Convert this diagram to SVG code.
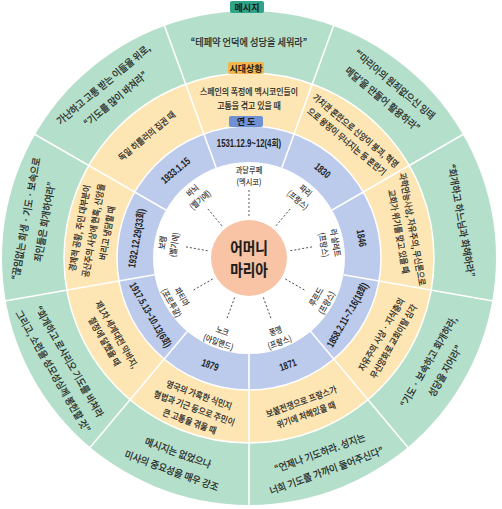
<svg xmlns="http://www.w3.org/2000/svg" width="502" height="509" viewBox="0 0 502 509">
<style>
.t{font-family:"Noto Sans CJK KR","Noto Sans",sans-serif;fill:#1c1c1c;stroke:#1c1c1c;stroke-width:0.2;text-anchor:middle;dominant-baseline:central}
.g{font-size:10px}
.y{font-size:9px}
.p{font-size:8.5px;stroke-width:0.1}
.yr{font-family:"Liberation Sans","Noto Sans CJK KR",sans-serif;font-size:10.5px;font-weight:bold;fill:#222;text-anchor:middle;dominant-baseline:central}
.tag{font-family:"Noto Sans CJK KR",sans-serif;font-size:9px;font-weight:bold;fill:#1a1a1a;text-anchor:middle;dominant-baseline:central}
.div{stroke:#fff;stroke-width:1.6}
.dash{stroke:#333;stroke-width:0.8;stroke-dasharray:2 2;fill:none}
</style>
<g id="rings">
<circle cx="249" cy="258" r="247" fill="#b4dfca"/>
<circle cx="249" cy="258" r="185" fill="#fde6b4" stroke="#fff" stroke-width="1.5"/>
<circle cx="249" cy="258" r="132" fill="#bccaeb" stroke="#fff" stroke-width="1.5"/>
<circle cx="249" cy="258" r="96" fill="#fff"/>
<g transform="translate(249,258)" class="div">
<line x1="0" y1="-96" x2="0" y2="-248" transform="rotate(20)"/>
<line x1="0" y1="-96" x2="0" y2="-248" transform="rotate(60)"/>
<line x1="0" y1="-96" x2="0" y2="-248" transform="rotate(100)"/>
<line x1="0" y1="-96" x2="0" y2="-248" transform="rotate(140)"/>
<line x1="0" y1="-96" x2="0" y2="-248" transform="rotate(180)"/>
<line x1="0" y1="-96" x2="0" y2="-248" transform="rotate(220)"/>
<line x1="0" y1="-96" x2="0" y2="-248" transform="rotate(260)"/>
<line x1="0" y1="-96" x2="0" y2="-248" transform="rotate(300)"/>
<line x1="0" y1="-96" x2="0" y2="-248" transform="rotate(340)"/>
</g>
</g>
<g id="connectors" transform="translate(249,258)" class="dash">
<line x1="0" y1="-42" x2="0" y2="-68"/>
<line x1="0" y1="-42" x2="0" y2="-66" transform="rotate(40)"/>
<line x1="0" y1="-42" x2="0" y2="-66" transform="rotate(80)"/>
<line x1="0" y1="-42" x2="0" y2="-66" transform="rotate(120)"/>
<line x1="0" y1="-42" x2="0" y2="-66" transform="rotate(160)"/>
<line x1="0" y1="-42" x2="0" y2="-66" transform="rotate(200)"/>
<line x1="0" y1="-42" x2="0" y2="-66" transform="rotate(240)"/>
<line x1="0" y1="-42" x2="0" y2="-66" transform="rotate(280)"/>
<line x1="0" y1="-42" x2="0" y2="-66" transform="rotate(320)"/>
</g>
<g id="center">
<circle cx="249" cy="258" r="38" fill="#f9c3a5"/>
<text class="t" font-size="15.5" font-weight="bold" transform="translate(249,247) scale(.88,1)">어머니</text>
<text class="t" font-size="15.5" font-weight="bold" transform="translate(249,269) scale(.88,1)">마리아</text>
</g>
<g id="guadalupe" transform="translate(249,258)">
<text class="t p" transform="translate(0,-88.5) scale(.85,1)">과달루페</text>
<text class="t p" transform="translate(0,-76.5) scale(.85,1)">(멕시코)</text>
<text class="yr" transform="translate(0,-114) scale(.74,1)">1531.12.9~12(4회)</text>
<text class="t y" transform="translate(0,-167) scale(.88,1)">스페인의 폭정에 멕시코인들이</text>
<text class="t y" transform="translate(0,-153) scale(.88,1)">고통을 겪고 있을 때</text>
<text class="t g" transform="translate(0,-216) scale(.92,1)">“테페약 언덕에 성당을 세워라”</text>
</g>
<g id="paris" transform="translate(249,258) rotate(40)">
<text class="t p" transform="translate(0,-88.5) scale(.85,1)">파리</text>
<text class="t p" transform="translate(0,-76.5) scale(.85,1)">(프랑스)</text>
<text class="yr" transform="translate(0,-114) scale(.74,1)">1830</text>
<text class="t y" transform="translate(0,-167) scale(.86,1)">가치관 혼란으로 신앙이 붕괴, 혁명</text>
<text class="t y" transform="translate(0,-153) scale(.86,1)">으로 왕정이 무너지는 등 혼란기</text>
<text class="t g" transform="translate(0,-227) scale(.9,1)">“‘마리아의 원죄없으신 잉태</text>
<text class="t g" transform="translate(0,-208) scale(.9,1)">메달’을 만들어 활용하라”</text>
</g>
<g id="lasalette" transform="translate(249,258) rotate(80)">
<text class="t p" transform="translate(0,-88.5) scale(.85,1)">라 살레트</text>
<text class="t p" transform="translate(0,-76.5) scale(.85,1)">(프랑스)</text>
<text class="yr" transform="translate(0,-114) scale(.74,1)">1846</text>
<text class="t y" transform="translate(0,-167) scale(.86,1)">과학만능사상, 자유주의, 무신론으로</text>
<text class="t y" transform="translate(0,-153) scale(.86,1)">교회가 위기를 맞고 있을 때</text>
<text class="t g" transform="translate(0,-216) scale(.92,1)">“회개하고 하느님과 화해하라”</text>
</g>
<g id="lourdes" transform="translate(249,258) rotate(-60)">
<text class="t p" transform="translate(0,77) scale(.85,1)">루르드</text>
<text class="t p" transform="translate(0,89) scale(.85,1)">(프랑스)</text>
<text class="yr" transform="translate(0,114) scale(.72,1)">1858.2.11~7.16(18회)</text>
<text class="t y" transform="translate(0,152) scale(.88,1)">자유주의 사상 · 지식층의</text>
<text class="t y" transform="translate(0,166) scale(.88,1)">무신앙화로 교회이탈 심각</text>
<text class="t g" transform="translate(0,207) scale(.92,1)">“기도 · 보속하고 회개하라,</text>
<text class="t g" transform="translate(0,226) scale(.92,1)">성당을 지어라”</text>
</g>
<g id="pontmain" transform="translate(249,258) rotate(-20)">
<text class="t p" transform="translate(0,77) scale(.85,1)">퐁맹</text>
<text class="t p" transform="translate(0,89) scale(.85,1)">(프랑스)</text>
<text class="yr" transform="translate(0,114) scale(.74,1)">1871</text>
<text class="t y" transform="translate(0,152) scale(.88,1)">보불전쟁으로 프랑스가</text>
<text class="t y" transform="translate(0,166) scale(.88,1)">위기에 처해있을 때</text>
<text class="t g" transform="translate(0,207) scale(.92,1)">“언제나 기도하라. 성지는</text>
<text class="t g" transform="translate(0,226) scale(.92,1)">너희 기도를 가까이 들어주신다”</text>
</g>
<g id="knock" transform="translate(249,258) rotate(20)">
<text class="t p" transform="translate(0,77) scale(.85,1)">노크</text>
<text class="t p" transform="translate(0,89) scale(.85,1)">(아일랜드)</text>
<text class="yr" transform="translate(0,114) scale(.74,1)">1879</text>
<text class="t y" transform="translate(0,145) scale(.88,1)">영국의 가혹한 식민지</text>
<text class="t y" transform="translate(0,159) scale(.88,1)">형법과 기근 등으로 주민이</text>
<text class="t y" transform="translate(0,173) scale(.88,1)">큰 고통을 겪을 때</text>
<text class="t g" transform="translate(0,207) scale(.92,1)">메시지는 없었으나</text>
<text class="t g" transform="translate(0,226) scale(.92,1)">미사의 중요성을 매우 강조</text>
</g>
<g id="fatima" transform="translate(249,258) rotate(60)">
<text class="t p" transform="translate(0,77) scale(.85,1)">파티마</text>
<text class="t p" transform="translate(0,89) scale(.85,1)">(포르투갈)</text>
<text class="yr" transform="translate(0,114) scale(.72,1)">1917.5.13~10.13(6회)</text>
<text class="t y" transform="translate(0,152) scale(.88,1)">제1차 세계대전 막바지,</text>
<text class="t y" transform="translate(0,166) scale(.88,1)">절정에 달했을 때</text>
<text class="t g" transform="translate(0,207) scale(.9,1)">“회개하고 로사리오 기도를 바쳐라</text>
<text class="t g" transform="translate(0,226) scale(.9,1)">그리고, 소련을 성모성심께 봉헌할 것”</text>
</g>
<g id="beauraing" transform="translate(249,258) rotate(-80)">
<text class="t p" transform="translate(0,-88.5) scale(.85,1)">보랭</text>
<text class="t p" transform="translate(0,-76.5) scale(.85,1)">(벨기에)</text>
<text class="yr" transform="translate(0,-114) scale(.74,1)">1932.12.29(33회)</text>
<text class="t y" transform="translate(0,-173) scale(.88,1)">경제적 공황, 주민 대부분이</text>
<text class="t y" transform="translate(0,-159) scale(.88,1)">공산주의 사상에 현혹, 신앙을</text>
<text class="t y" transform="translate(0,-145) scale(.88,1)">버리고 냉담할 때</text>
<text class="t g" transform="translate(0,-227) scale(.9,1)">“끊임없는 희생 · 기도 · 보속으로</text>
<text class="t g" transform="translate(0,-208) scale(.9,1)">죄인들은 회개하여라”</text>
</g>
<g id="banneux" transform="translate(249,258) rotate(-40)">
<text class="t p" transform="translate(0,-88.5) scale(.85,1)">바뇌</text>
<text class="t p" transform="translate(0,-76.5) scale(.85,1)">(벨기에)</text>
<text class="yr" transform="translate(0,-114) scale(.74,1)">1933.1.15</text>
<text class="t y" transform="translate(0,-160) scale(.88,1)">독일 히틀러의 집권 때</text>
<text class="t g" transform="translate(0,-227) scale(.9,1)">가난하고 고통 받는 이들을 위로,</text>
<text class="t g" transform="translate(0,-208) scale(.9,1)">“기도를 많이 바쳐라”</text>
</g>
<g id="tag-message">
<rect x="230" y="1" width="34" height="12" rx="2" fill="#2fa487"/>
<text class="tag" x="247" y="7.5">메시지</text>
</g>
<g id="tag-situation">
<rect x="228" y="62" width="36" height="12" rx="2" fill="#f4b54c"/>
<text class="tag" x="246" y="68.5">시대상황</text>
</g>
<g id="tag-year">
<rect x="229" y="116" width="34" height="11" rx="2" fill="#6f90d2"/>
<text class="tag" x="246" y="121.5">연 도</text>
</g>
</svg>
